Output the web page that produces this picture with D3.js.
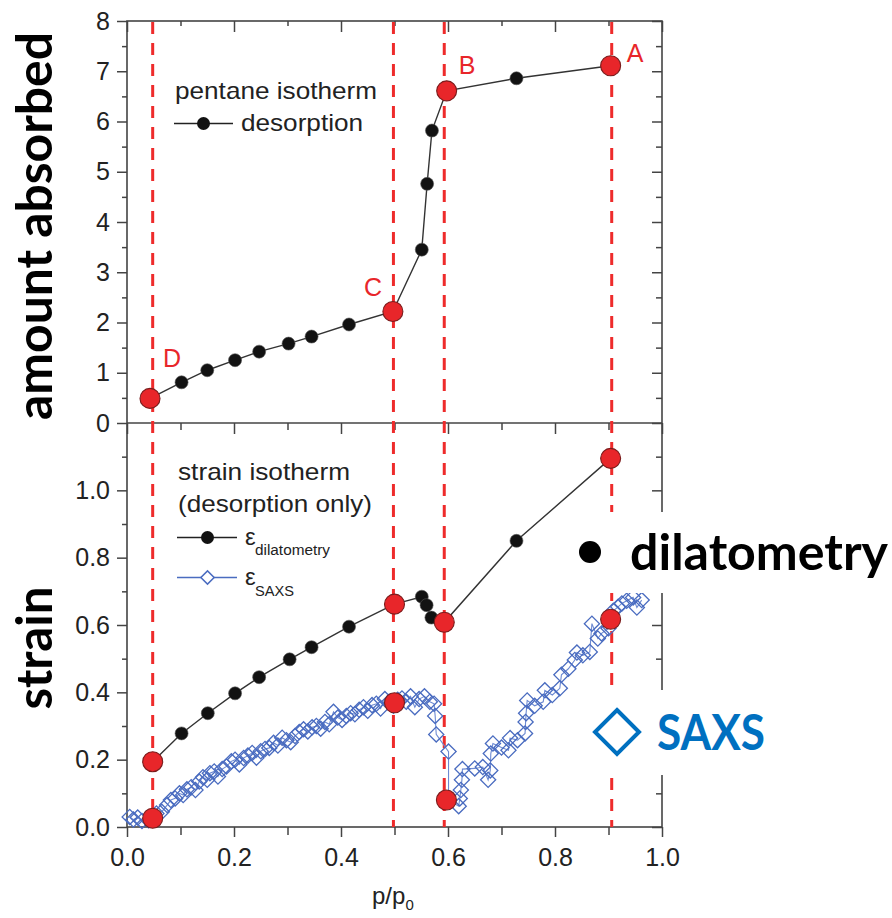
<!DOCTYPE html>
<html>
<head>
<meta charset="utf-8">
<script src="https://cdn.jsdelivr.net/npm/d3@7"></script>
<style>
  html, body { margin: 0; padding: 0; background: #fff; }
  svg { display: block; }
  .tick text { font-family: "Liberation Sans", Arial, sans-serif; font-size: 25px; fill: #222; }
</style>
</head>
<body>
<svg id="chart" width="892" height="918"></svg>
<script>
// ---- data ----
// state points marked on every panel
const stateLabels = ["D", "C", "B", "A"];
const stateP = [0.048, 0.498, 0.593, 0.906];

// pentane isotherm, desorption branch
const isoP      = [0.043, 0.102, 0.150, 0.202, 0.247, 0.302, 0.345, 0.415, 0.497, 0.551, 0.561, 0.570, 0.5975, 0.728, 0.904];
const isoAmount = [0.49, 0.81, 1.05, 1.25, 1.42, 1.58, 1.72, 1.96, 2.22, 3.45, 4.76, 5.82, 6.61, 6.86, 7.11];
const isoStateIdx = [0, 8, 12, 14];

// strain from dilatometry
const dilP      = [0.048, 0.102, 0.151, 0.202, 0.247, 0.304, 0.345, 0.415, 0.500, 0.551, 0.560, 0.569, 0.593, 0.728, 0.904];
const dilStrain = [0.194, 0.278, 0.338, 0.397, 0.445, 0.498, 0.534, 0.595, 0.662, 0.684, 0.659, 0.622, 0.608, 0.850, 1.095];
const dilStateIdx = [0, 8, 12, 14];

// strain from SAXS
const saxsP = [0.005, 0.012, 0.020, 0.028, 0.040, 0.055, 0.065, 0.075, 0.082, 0.090, 0.098, 0.105, 0.112, 0.120, 0.128,
  0.135, 0.142, 0.150, 0.155, 0.163, 0.170, 0.178, 0.186, 0.195, 0.202, 0.210, 0.218, 0.226, 0.234, 0.242,
  0.250, 0.258, 0.266, 0.274, 0.282, 0.290, 0.298, 0.306, 0.314, 0.322, 0.330, 0.338, 0.346, 0.354, 0.362,
  0.370, 0.378, 0.386, 0.394, 0.402, 0.410, 0.418, 0.426, 0.434, 0.442, 0.450, 0.458, 0.466, 0.474, 0.482,
  0.490, 0.498, 0.506, 0.514, 0.522, 0.530, 0.538, 0.546, 0.556, 0.566, 0.574, 0.576, 0.578, 0.601, 0.601,
  0.620, 0.622, 0.624, 0.626, 0.627, 0.650, 0.665, 0.675, 0.679, 0.680, 0.684, 0.700, 0.713, 0.716, 0.730,
  0.744, 0.745, 0.746, 0.748, 0.762, 0.778, 0.781, 0.795, 0.809, 0.812, 0.825, 0.837, 0.841, 0.852, 0.865,
  0.869, 0.880, 0.887, 0.900, 0.909, 0.918, 0.925, 0.934, 0.946, 0.953, 0.962];
const saxsStrain = [0.030, 0.022, 0.028, 0.018, 0.020, 0.040, 0.045, 0.065, 0.080, 0.085, 0.100, 0.095, 0.112, 0.118, 0.110,
  0.135, 0.148, 0.140, 0.160, 0.165, 0.150, 0.172, 0.180, 0.195, 0.200, 0.186, 0.205, 0.212, 0.220, 0.206,
  0.225, 0.232, 0.235, 0.250, 0.242, 0.265, 0.258, 0.252, 0.270, 0.282, 0.290, 0.284, 0.296, 0.300, 0.292,
  0.312, 0.305, 0.342, 0.325, 0.318, 0.330, 0.338, 0.335, 0.348, 0.356, 0.345, 0.362, 0.366, 0.352, 0.380,
  0.372, 0.360, 0.378, 0.382, 0.372, 0.388, 0.356, 0.380, 0.388, 0.372, 0.366, 0.330, 0.275, 0.224, 0.080,
  0.062, 0.085, 0.110, 0.140, 0.172, 0.174, 0.178, 0.140, 0.168, 0.218, 0.248, 0.236, 0.228, 0.264, 0.258,
  0.278, 0.312, 0.338, 0.376, 0.360, 0.372, 0.406, 0.392, 0.412, 0.452, 0.470, 0.496, 0.518, 0.510, 0.520,
  0.604, 0.560, 0.575, 0.590, 0.642, 0.654, 0.664, 0.672, 0.682, 0.652, 0.674];
const saxsStateP      = [0.048, 0.500, 0.597, 0.904];
const saxsStateStrain = [0.026, 0.369, 0.080, 0.617];

// axis ticks
const xTicks      = [0, 0.2, 0.4, 0.6, 0.8, 1.0];
const xMinorTicks = [0.1, 0.3, 0.5, 0.7, 0.9];
const amountTicks = [0, 1, 2, 3, 4, 5, 6, 7, 8];
const amountMinor = [0.5, 1.5, 2.5, 3.5, 4.5, 5.5, 6.5, 7.5];
const strainTicks = [0, 0.2, 0.4, 0.6, 0.8, 1.0];
const strainMinor = [0.1, 0.3, 0.5, 0.7, 0.9, 1.1];

// ---- layout ----
const L = 127, R = 662, TOP = 21, MID = 423, BOT = 827;
const RED = "#e8262a", RED_EDGE = "#7a1c1c", DASH = "#ee2b2b";
const BLUE = "#4a6cc0", BRIGHT_BLUE = "#0070c0";
const FONT = "'Liberation Sans', Arial, sans-serif";
const BIG = "Lato, 'Open Sans', sans-serif";

const svg = d3.select("#chart");
const x = d3.scaleLinear().domain([0, 1]).range([L, R]);
const yA = d3.scaleLinear().domain([0, 8]).range([MID, TOP]);
const yS = d3.scaleLinear().domain([0, 1.2]).range([BOT, MID]);

function styleAxis(g) {
  g.select(".domain").remove();
  g.selectAll(".tick line").attr("stroke", "#444").attr("stroke-width", 1.5);
}

// ---- axes ----
// top panel: labelled left axis (outward ticks)
svg.append("g").attr("transform", `translate(${L},0)`)
  .call(d3.axisLeft(yA).tickValues(amountTicks).tickFormat(d3.format("d")).tickSize(10).tickPadding(7)).call(styleAxis);
svg.append("g").attr("transform", `translate(${L},0)`)
  .call(d3.axisLeft(yA).tickValues(amountMinor).tickFormat("").tickSize(5)).call(styleAxis);
// top panel: right axis (inward ticks)
svg.append("g").attr("transform", `translate(${R},0)`)
  .call(d3.axisLeft(yA).tickValues(amountTicks).tickFormat("").tickSize(10)).call(styleAxis);
svg.append("g").attr("transform", `translate(${R},0)`)
  .call(d3.axisLeft(yA).tickValues(amountMinor).tickFormat("").tickSize(6)).call(styleAxis);
// top edge ticks (inward)
svg.append("g").attr("transform", `translate(0,${TOP})`)
  .call(d3.axisBottom(x).tickValues(xTicks).tickFormat("").tickSize(11)).call(styleAxis);
svg.append("g").attr("transform", `translate(0,${TOP})`)
  .call(d3.axisBottom(x).tickValues(xMinorTicks).tickFormat("").tickSize(5)).call(styleAxis);
// shared boundary ticks (pointing into the strain panel)
svg.append("g").attr("transform", `translate(0,${MID})`)
  .call(d3.axisBottom(x).tickValues(xTicks).tickFormat("").tickSize(11)).call(styleAxis);
svg.append("g").attr("transform", `translate(0,${MID})`)
  .call(d3.axisBottom(x).tickValues(xMinorTicks).tickFormat("").tickSize(7)).call(styleAxis);

// strain panel: labelled left axis
svg.append("g").attr("transform", `translate(${L},0)`)
  .call(d3.axisLeft(yS).tickValues(strainTicks).tickFormat(d3.format(".1f")).tickSize(10).tickPadding(7)).call(styleAxis);
svg.append("g").attr("transform", `translate(${L},0)`)
  .call(d3.axisLeft(yS).tickValues(strainMinor).tickFormat("").tickSize(5)).call(styleAxis);
svg.append("g").attr("transform", `translate(${R},0)`)
  .call(d3.axisLeft(yS).tickValues(strainTicks).tickFormat("").tickSize(10)).call(styleAxis);
svg.append("g").attr("transform", `translate(${R},0)`)
  .call(d3.axisLeft(yS).tickValues(strainMinor).tickFormat("").tickSize(6)).call(styleAxis);
// bottom x axis (outward ticks, labelled)
svg.append("g").attr("transform", `translate(0,${BOT})`)
  .call(d3.axisBottom(x).tickValues(xTicks).tickFormat(d3.format(".1f")).tickSize(10).tickPadding(11)).call(styleAxis);
svg.append("g").attr("transform", `translate(0,${BOT})`)
  .call(d3.axisBottom(x).tickValues(xMinorTicks).tickFormat("").tickSize(8)).call(styleAxis);

// frames
svg.append("rect").attr("x", L).attr("y", TOP).attr("width", R - L).attr("height", BOT - TOP)
  .attr("fill", "none").attr("stroke", "#444").attr("stroke-width", 1.6);
svg.append("line").attr("x1", L).attr("x2", R).attr("y1", MID).attr("y2", MID)
  .attr("stroke", "#444").attr("stroke-width", 1.6);

// ---- vertical dashed state lines ----
svg.append("g").selectAll("line").data(stateP).join("line")
  .attr("x1", d => x(d)).attr("x2", d => x(d))
  .attr("y1", TOP + 1).attr("y2", BOT)
  .attr("stroke", DASH).attr("stroke-width", 3).attr("stroke-dasharray", "12,9");

// ---- pentane isotherm ----
const isoData = isoP.map((p, i) => ({ p, v: isoAmount[i] }));
svg.append("path").datum(isoData)
  .attr("d", d3.line().x(d => x(d.p)).y(d => yA(d.v)))
  .attr("fill", "none").attr("stroke", "#333").attr("stroke-width", 1.4);
svg.append("g").selectAll("circle").data(isoData.filter((d, i) => !isoStateIdx.includes(i))).join("circle")
  .attr("cx", d => x(d.p)).attr("cy", d => yA(d.v)).attr("r", 6.5)
  .attr("fill", "#121212").attr("stroke", "#555").attr("stroke-width", 0.6);

// ---- SAXS strain ----
const saxsData = saxsP.map((p, i) => ({ p, v: saxsStrain[i] }));
svg.append("path").datum(saxsData)
  .attr("d", d3.line().x(d => x(d.p)).y(d => yS(d.v)))
  .attr("fill", "none").attr("stroke", "#6d8ad2").attr("stroke-width", 1.1);
const diamond = d3.symbol(d3.symbolSquare, 115)();
svg.append("g").selectAll("path").data(saxsData).join("path")
  .attr("d", diamond)
  .attr("transform", d => `translate(${x(d.p)},${yS(d.v)}) rotate(45)`)
  .attr("fill", "none").attr("stroke", BLUE).attr("stroke-width", 1.3);

// ---- dilatometry strain ----
const dilData = dilP.map((p, i) => ({ p, v: dilStrain[i] }));
svg.append("path").datum(dilData)
  .attr("d", d3.line().x(d => x(d.p)).y(d => yS(d.v)))
  .attr("fill", "none").attr("stroke", "#333").attr("stroke-width", 1.4);
svg.append("g").selectAll("circle").data(dilData.filter((d, i) => !dilStateIdx.includes(i))).join("circle")
  .attr("cx", d => x(d.p)).attr("cy", d => yS(d.v)).attr("r", 6.5)
  .attr("fill", "#121212").attr("stroke", "#555").attr("stroke-width", 0.6);

// ---- red state markers ----
const stateDots = [
  ...isoStateIdx.map(i => ({ cx: x(isoP[i]), cy: yA(isoAmount[i]) })),
  ...dilStateIdx.map(i => ({ cx: x(dilP[i]), cy: yS(dilStrain[i]) })),
  ...saxsStateP.map((p, i) => ({ cx: x(p), cy: yS(saxsStateStrain[i]) }))
];
svg.append("g").selectAll("circle").data(stateDots).join("circle")
  .attr("cx", d => d.cx).attr("cy", d => d.cy).attr("r", 10)
  .attr("fill", RED).attr("stroke", RED_EDGE).attr("stroke-width", 1.1);

// state letters beside the isotherm markers
const letterOffset = { D: [13, -31], C: [-29, -15], B: [12, -17], A: [16, -4] };
svg.append("g").selectAll("text").data(stateLabels).join("text")
  .attr("x", (d, i) => x(isoP[isoStateIdx[i]]) + letterOffset[d][0])
  .attr("y", (d, i) => yA(isoAmount[isoStateIdx[i]]) + letterOffset[d][1])
  .attr("font-family", FONT).attr("font-size", 25).attr("fill", RED)
  .text(d => d);

// ---- in-plot legends ----
const lg = svg.append("g").attr("font-family", FONT).attr("fill", "#222");
lg.append("text").attr("x", 175).attr("y", 99).attr("font-size", 24)
  .attr("textLength", 202).attr("lengthAdjust", "spacingAndGlyphs").text("pentane isotherm");
lg.append("line").attr("x1", 174).attr("x2", 233).attr("y1", 123.5).attr("y2", 123.5)
  .attr("stroke", "#222").attr("stroke-width", 1.5);
lg.append("circle").attr("cx", 203.5).attr("cy", 123.5).attr("r", 6.5).attr("fill", "#121212");
lg.append("text").attr("x", 241).attr("y", 131).attr("font-size", 24)
  .attr("textLength", 122).attr("lengthAdjust", "spacingAndGlyphs").text("desorption");

lg.append("text").attr("x", 178).attr("y", 480).attr("font-size", 24)
  .attr("textLength", 172).attr("lengthAdjust", "spacingAndGlyphs").text("strain isotherm");
lg.append("text").attr("x", 178).attr("y", 512).attr("font-size", 24)
  .attr("textLength", 194).attr("lengthAdjust", "spacingAndGlyphs").text("(desorption only)");
lg.append("line").attr("x1", 177).attr("x2", 237).attr("y1", 537.5).attr("y2", 537.5)
  .attr("stroke", "#222").attr("stroke-width", 1.5);
lg.append("circle").attr("cx", 207.5).attr("cy", 537.5).attr("r", 6.5).attr("fill", "#121212");
lg.append("text").attr("x", 245).attr("y", 545).attr("font-size", 24).text("ε");
lg.append("text").attr("x", 255).attr("y", 555).attr("font-size", 15.5)
  .attr("textLength", 75).attr("lengthAdjust", "spacingAndGlyphs").text("dilatometry");
lg.append("line").attr("x1", 177).attr("x2", 237).attr("y1", 577.5).attr("y2", 577.5)
  .attr("stroke", BLUE).attr("stroke-width", 1.5);
lg.append("path").attr("d", d3.symbol(d3.symbolSquare, 88)())
  .attr("transform", "translate(207.5,577.5) rotate(45)")
  .attr("fill", "#fff").attr("stroke", BLUE).attr("stroke-width", 1.5);
lg.append("text").attr("x", 245).attr("y", 585).attr("font-size", 24).text("ε");
lg.append("text").attr("x", 255).attr("y", 596).attr("font-size", 15.5)
  .attr("textLength", 39).attr("lengthAdjust", "spacingAndGlyphs").text("SAXS");

// x-axis title
const xt = svg.append("text").attr("x", 372).attr("y", 904)
  .attr("font-family", FONT).attr("font-size", 24).attr("fill", "#222");
xt.append("tspan").text("p/p");
xt.append("tspan").attr("font-size", 15).attr("dy", 6).text("0");

// ---- large annotation labels ----
svg.append("text").attr("transform", "translate(52,226) rotate(-90)")
  .attr("text-anchor", "middle").attr("font-family", BIG).attr("font-weight", 700)
  .attr("font-size", 50).attr("fill", "#000")
  .attr("textLength", 388).attr("lengthAdjust", "spacingAndGlyphs").text("amount absorbed");
svg.append("text").attr("transform", "translate(52,648) rotate(-90)")
  .attr("text-anchor", "middle").attr("font-family", BIG).attr("font-weight", 700)
  .attr("font-size", 50).attr("fill", "#000")
  .attr("textLength", 123).attr("lengthAdjust", "spacingAndGlyphs").text("strain");

// callout keys with white backing
svg.append("rect").attr("x", 575).attr("y", 512).attr("width", 317).attr("height", 81).attr("fill", "#fff");
svg.append("rect").attr("x", 585).attr("y", 690).attr("width", 215).attr("height", 85).attr("fill", "#fff");
svg.append("circle").attr("cx", 590).attr("cy", 552).attr("r", 11).attr("fill", "#000");
svg.append("text").attr("x", 630).attr("y", 570)
  .attr("font-family", BIG).attr("font-weight", 700).attr("font-size", 50).attr("fill", "#000")
  .attr("textLength", 258).attr("lengthAdjust", "spacingAndGlyphs").text("dilatometry");
svg.append("path").attr("d", "M617,710 L639,732 L617,754 L595,732 Z")
  .attr("fill", "none").attr("stroke", BRIGHT_BLUE).attr("stroke-width", 4);
svg.append("text").attr("x", 657).attr("y", 750)
  .attr("font-family", BIG).attr("font-weight", 700).attr("font-size", 50).attr("fill", BRIGHT_BLUE)
  .attr("textLength", 108).attr("lengthAdjust", "spacingAndGlyphs").text("SAXS");
</script>
</body>
</html>
